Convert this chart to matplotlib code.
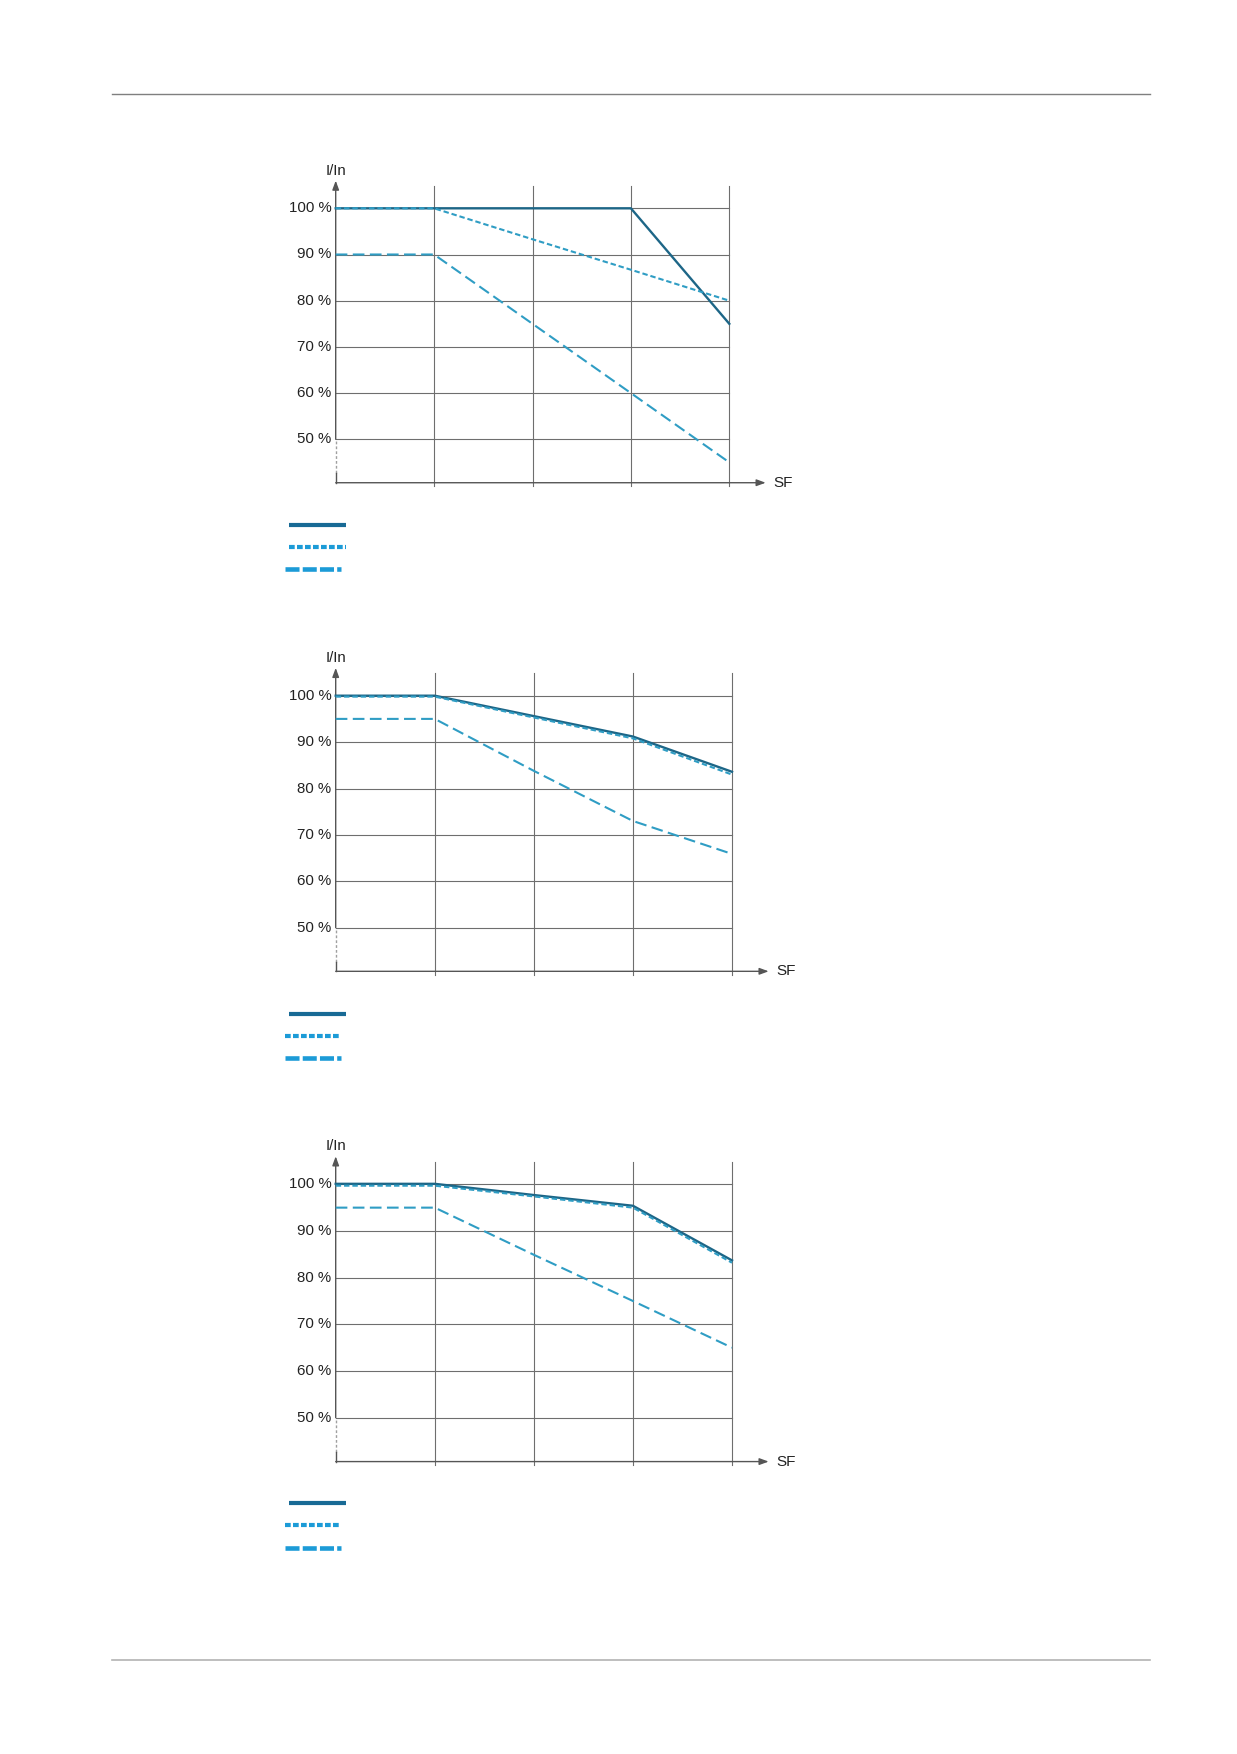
import matplotlib.pyplot as plt
from matplotlib.lines import Line2D

plt.rcParams['font.family'] = ['Liberation Sans', 'DejaVu Sans']

W, H = 1237, 1754

# derating curves, current I/In (%) against switching frequency step
sf_steps = [0, 1, 2, 3, 4]
y_ticks = [50, 60, 70, 80, 90, 100]
y_labels = ['50 %', '60 %', '70 %', '80 %', '90 %', '100 %']

chart1_solid = [100, 100, 100, 100, 75]
chart1_short = [100, 100, 93.3, 86.7, 80]
chart1_long = [90, 90, 75, 60, 45]

chart2_solid = [100, 100, 95.6, 91.2, 83.6]
chart2_short = [99.8, 99.8, 95.3, 90.8, 83.0]
chart2_long = [95, 95, 83.8, 73, 65.9]

chart3_solid = [100.1, 100.1, 97.7, 95.4, 83.7]
chart3_short = [99.7, 99.7, 97.4, 95.0, 83.2]
chart3_long = [95, 95, 84.9, 75, 65]

dark = '#1d6687'
teal = '#2f9dc4'
legend_dark = '#186a95'
legend_blue = '#1c9bd7'
grid = '#6e6e6e'
axis_c = '#555555'

Y_LO, Y_HI = 40.6, 106
X_HI = 4.37


def fx(x):
    return x / W


def fy(y):
    return 1 - y / H


def draw_chart(fig, x0, x4, y100, y50, solid, short, long_):
    dx = (x4 - x0) / 4
    dy = (y50 - y100) / 50
    left = x0
    right = x0 + X_HI * dx
    bottom = y50 + (50 - Y_LO) * dy
    top = y100 - (Y_HI - 100) * dy
    ax = fig.add_axes([fx(left), fy(bottom), fx(right - left), (bottom - top) / H])
    ax.set_xlim(0, X_HI)
    ax.set_ylim(Y_LO, Y_HI)
    ax.axis('off')

    for v, lab in zip(y_ticks, y_labels):
        ax.plot([0, 4], [v, v], color=grid, lw=0.8, clip_on=False)
        ax.text(-0.044, v, lab, ha='right', va='center', fontsize=10.8, color='#222222')
    for s in sf_steps[1:]:
        ax.plot([s, s], [Y_LO - 0.7, 104.8], color=grid, lw=0.8, clip_on=False)

    # axes with arrow heads
    ax.annotate('', xy=(X_HI, Y_LO), xytext=(0, Y_LO), annotation_clip=False,
                arrowprops=dict(arrowstyle='-|>,head_length=0.6,head_width=0.22', color=axis_c, lw=1.0,
                                mutation_scale=9, shrinkA=0, shrinkB=0))
    ax.annotate('', xy=(0, Y_HI), xytext=(0, 50), annotation_clip=False,
                arrowprops=dict(arrowstyle='-|>,head_length=0.6,head_width=0.22', color=axis_c, lw=1.0,
                                mutation_scale=9, shrinkA=0, shrinkB=0))
    ax.plot([0, 0], [42.7, 50], color='#a0a0a0', lw=1.0, ls=(0, (2, 1.5)), clip_on=False)
    ax.plot([0, 0], [Y_LO, 42.7], color=axis_c, lw=1.0, clip_on=False)

    ax.text(0.0, 108.1, 'I/In', ha='center', va='center', fontsize=10.8, color='#222222')
    ax.text(4.45, Y_LO, 'SF', ha='left', va='center', fontsize=11, color='#222222')

    ax.plot(sf_steps, solid, color=dark, lw=1.7, clip_on=False, zorder=3)
    ax.plot(sf_steps, short, color=teal, lw=1.5, ls=(0, (2.6, 1.4)), clip_on=False, zorder=4)
    ax.plot(sf_steps, long_, color=teal, lw=1.5, ls=(0, (5.6, 2.6)), clip_on=False, zorder=4)
    return ax


def legend_swatches(fig, rows):
    (sx1, sx2, sy), (dx1, dx2, dy_), (lx1, lx2, ly) = rows
    fig.add_artist(Line2D([fx(sx1), fx(sx2)], [fy(sy), fy(sy)], color=legend_dark, lw=3.0,
                          solid_capstyle='butt', transform=fig.transFigure))
    fig.add_artist(Line2D([fx(dx1), fx(dx2)], [fy(dy_), fy(dy_)], color=legend_blue, lw=3.0,
                          ls=(0, (1.37, 0.55)), dash_capstyle='butt', transform=fig.transFigure))
    fig.add_artist(Line2D([fx(lx1), fx(lx2)], [fy(ly), fy(ly)], color=legend_blue, lw=3.3,
                          ls=(0, (3.06, 0.7)), dash_capstyle='butt', transform=fig.transFigure))


fig = plt.figure(figsize=(W / 100, H / 100), dpi=100)

# page header / footer rules
fig.add_artist(Line2D([fx(112), fx(1150)], [fy(94.3), fy(94.3)], color='#7f7f7f', lw=1.0,
                      transform=fig.transFigure))
fig.add_artist(Line2D([fx(112), fx(1150)], [fy(1660), fy(1660)], color='#b3b3b3', lw=1.2,
                      transform=fig.transFigure))

draw_chart(fig, 335.7, 729.3, 208.3, 439.3, chart1_solid, chart1_short, chart1_long)
legend_swatches(fig, [(289.3, 345.7, 525), (289.3, 345.7, 546.7), (285, 341, 569)])

draw_chart(fig, 335.7, 732, 695.7, 927.7, chart2_solid, chart2_short, chart2_long)
legend_swatches(fig, [(289.3, 345.7, 1014.3), (285, 341, 1036), (285, 341, 1058.3)])

draw_chart(fig, 335.7, 732, 1184.3, 1417.7, chart3_solid, chart3_short, chart3_long)
legend_swatches(fig, [(289.3, 345.7, 1503.3), (285, 341, 1525.3), (285, 341, 1547.7)])

fig.savefig('out.png', dpi=100)
